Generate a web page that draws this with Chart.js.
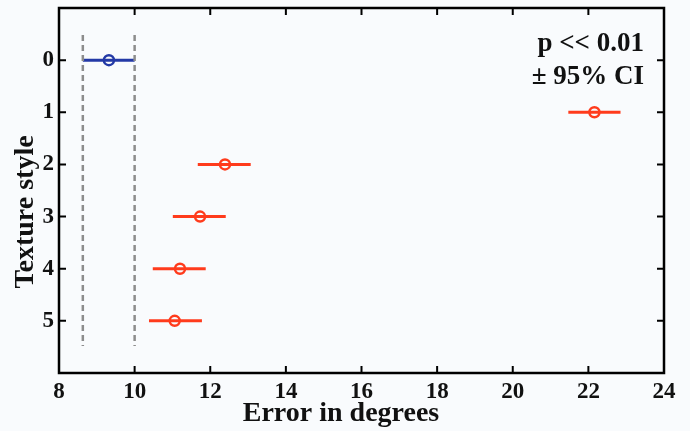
<!DOCTYPE html>
<html>
<head>
<meta charset="utf-8">
<script src="https://cdn.jsdelivr.net/npm/chart.js@4"></script>
<style>
  html, body { margin: 0; padding: 0; background: #f9fbfd; }
  #wrap { width: 690px; height: 431px; }
</style>
</head>
<body>
<div id="wrap"><canvas id="myChart" width="690" height="431"></canvas></div>
<script>
// texture styles on the y-axis
var styles = [0, 1, 2, 3, 4, 5];
// mean error and the 95% CI per style
var meanErr = [9.32, 22.16, 12.39, 11.73, 11.2, 11.06];
var ciLow = [8.63, 21.47, 11.67, 11.01, 10.48, 10.38];
var ciHigh = [10.0, 22.85, 13.07, 12.41, 11.88, 11.78];
// tick labels
var xTicks = [8, 10, 12, 14, 16, 18, 20, 22, 24];
var yTicks = [0, 1, 2, 3, 4, 5];
// vertical extent of the dashed reference lines
var refSpan = [-0.48, 5.48];

var blue = "#2339a6";
var red = "#ff3b1c";
var serif = "'Liberation Serif', 'DejaVu Serif', serif";

var datasets = [];
// dashed lines at the CI of style 0
[ciLow[0], ciHigh[0]].forEach(function (v) {
  datasets.push({
    data: [{ x: v, y: refSpan[0] }, { x: v, y: refSpan[1] }],
    showLine: true,
    borderColor: "#8c8c8c",
    borderWidth: 2.5,
    borderDash: [6, 4],
    pointRadius: 0
  });
});
// error bars
styles.forEach(function (s, i) {
  datasets.push({
    data: [{ x: ciLow[i], y: s }, { x: ciHigh[i], y: s }],
    showLine: true,
    borderColor: i === 0 ? blue : red,
    borderWidth: 3,
    pointRadius: 0
  });
});
// means
datasets.push({
  data: styles.map(function (s, i) { return { x: meanErr[i], y: s }; }),
  showLine: false,
  pointRadius: 5,
  pointBorderWidth: 2.5,
  pointBackgroundColor: "rgba(0,0,0,0)",
  pointBorderColor: styles.map(function (s, i) { return i === 0 ? blue : red; })
});

var frame = {
  id: "frame",
  beforeDraw: function (chart) {
    var c = chart.ctx;
    c.save();
    c.fillStyle = "#f9fbfd";
    c.fillRect(0, 0, chart.width, chart.height);
    c.restore();
  },
  afterDraw: function (chart) {
    var c = chart.ctx, a = chart.chartArea;
    var xs = chart.scales.x, ys = chart.scales.y;
    c.save();
    c.strokeStyle = "#000";
    c.lineWidth = 2.5;
    c.strokeRect(a.left, a.top, a.right - a.left, a.bottom - a.top);
    c.lineWidth = 2;
    c.beginPath();
    xTicks.forEach(function (t) {
      var px = xs.getPixelForValue(t);
      c.moveTo(px, a.bottom); c.lineTo(px, a.bottom - 7);
      c.moveTo(px, a.top); c.lineTo(px, a.top + 7);
    });
    yTicks.forEach(function (t) {
      var py = ys.getPixelForValue(t);
      c.moveTo(a.left, py); c.lineTo(a.left + 7, py);
      c.moveTo(a.right, py); c.lineTo(a.right - 7, py);
    });
    c.stroke();

    c.fillStyle = "#111";
    c.font = "bold 28px " + serif;
    c.textAlign = "center";
    c.textBaseline = "alphabetic";
    c.fillText("Error in degrees", 341, 421);
    c.save();
    c.translate(33, 212);
    c.rotate(-Math.PI / 2);
    c.fillText("Texture style", 0, 0);
    c.restore();

    c.font = "bold 27px " + serif;
    c.textAlign = "right";
    c.fillText("p << 0.01", 644, 51);
    c.fillText("\u00b1 95% CI", 644, 84);
    c.restore();
  }
};

new Chart(document.getElementById("myChart"), {
  type: "scatter",
  data: { datasets: datasets },
  options: {
    responsive: false,
    animation: false,
    layout: { padding: { top: 8, right: 26, left: 0, bottom: 0 } },
    plugins: { legend: { display: false }, tooltip: { enabled: false } },
    scales: {
      x: {
        min: 8, max: 24,
        afterBuildTicks: function (s) { s.ticks = xTicks.map(function (v) { return { value: v }; }); },
        afterFit: function (s) { s.height = 58; s.paddingLeft = 0; s.paddingRight = 0; },
        grid: { display: false, drawTicks: false },
        border: { display: false },
        ticks: { color: "#111", padding: 5, font: { family: serif, size: 23, weight: "bold" } }
      },
      y: {
        min: -1, max: 6, reverse: true,
        afterBuildTicks: function (s) { s.ticks = yTicks.map(function (v) { return { value: v }; }); },
        afterFit: function (s) { s.width = 59; s.paddingTop = 0; s.paddingBottom = 0; },
        grid: { display: false, drawTicks: false },
        border: { display: false },
        ticks: { color: "#111", padding: 5, font: { family: serif, size: 23, weight: "bold" } }
      }
    }
  },
  plugins: [frame]
});
</script>
</body>
</html>
